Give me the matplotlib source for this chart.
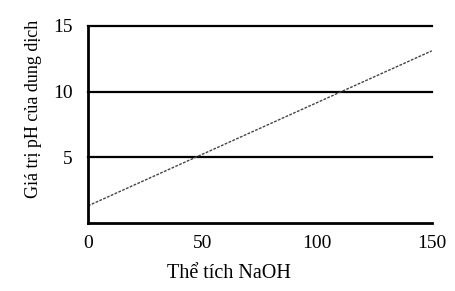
import matplotlib.pyplot as plt

# values
volume = [0, 150]
ph = [1.3, 13.1]
x_ticks = [0, 50, 100, 150]
y_ticks = [5, 10, 15]

plt.rcParams['font.family'] = ['Liberation Serif', 'DejaVu Serif']

fig = plt.figure(figsize=(4.56, 2.91), dpi=100)
ax = fig.add_axes([0.193, 0.234, 0.754, 0.677])

# horizontal grid lines
for yv in y_ticks:
    ax.axhline(yv, color='black', lw=1.6, zorder=1, clip_on=False)

ax.plot(volume, ph, color='#444444', lw=1.0, linestyle=(0, (2, 1)), zorder=2)

ax.set_xlim(0, 150)
ax.set_ylim(0, 15)
ax.set_xticks(x_ticks)
ax.set_yticks(y_ticks)
ax.tick_params(axis='x', length=0, labelsize=14, pad=9)
ax.tick_params(axis='y', length=0, labelsize=14, pad=11)
for s in ['top', 'right']:
    ax.spines[s].set_visible(False)
for s in ['left', 'bottom']:
    ax.spines[s].set_linewidth(2)
ax.spines['left'].set_bounds(0, 15)

ax.set_xlabel('Thể tích NaOH', fontsize=14.5)
ax.set_ylabel('Giá trị pH của dung dịch', fontsize=13)
ax.xaxis.set_label_coords(0.41, -0.21)
ax.yaxis.set_label_coords(-0.135, 0.58)

fig.savefig('out.png', dpi=100)
